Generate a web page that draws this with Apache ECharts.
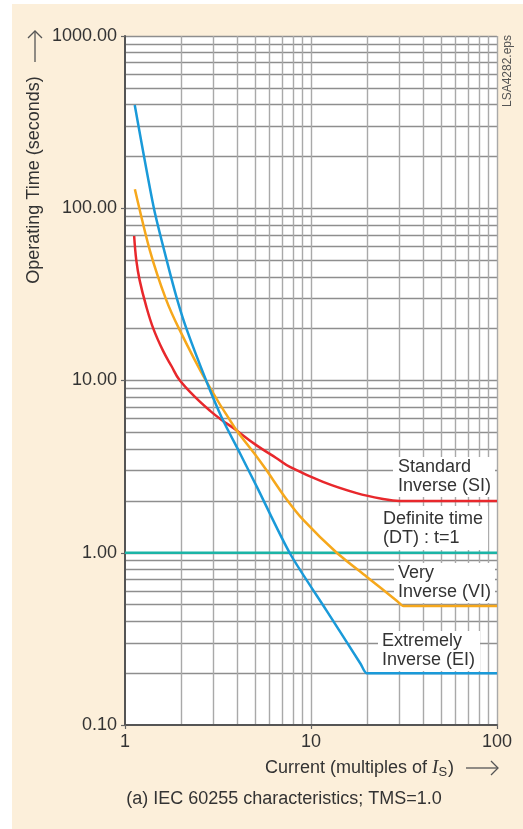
<!DOCTYPE html>
<html>
<head>
<meta charset="utf-8">
<script src="https://cdn.jsdelivr.net/npm/echarts@6/dist/echarts.min.js"></script>
<style>
html,body{margin:0;padding:0;background:#fff;}
#wrap{position:relative;width:523px;height:829px;overflow:hidden;}
#beige{position:absolute;left:12px;top:4px;width:511px;height:825px;background:#fcefda;}
#chart{position:absolute;left:0;top:0;width:523px;height:829px;}
</style>
</head>
<body>
<div id="wrap"><div id="beige"></div><div id="chart"></div></div>
<script>
// ---- Data ----
const xTickLabels = ['1', '10', '100'];
const yTickLabels = ['0.10', '1.00', '10.00', '100.00', '1000.00'];

// Standard Inverse (SI)
const siI = [1.12, 1.15, 1.2, 1.3, 1.42, 1.6, 1.78, 1.96, 2.4, 2.9, 3.31, 3.82, 5.1, 6.5, 7.7, 11.6, 17.6, 24, 30, 100];
const siT = [69, 50, 38, 27, 20, 14.9, 12.1, 10.1, 7.95, 6.6, 5.9, 5.3, 4.2, 3.55, 3.15, 2.58, 2.22, 2.06, 2.0, 2.0];
// Very Inverse (VI)
const viI = [1.13, 1.36, 1.66, 1.96, 2.72, 3.9, 5.11, 5.78, 7.25, 9.09, 13.75, 19.9, 29, 31.4, 33.5, 100];
const viT = [129, 57, 29.7, 19.8, 10, 5.3, 3.61, 3.0, 2.1, 1.55, 1.0, 0.726, 0.525, 0.49, 0.49, 0.49];
// Extremely Inverse (EI)
const eiI = [1.128, 1.43, 1.675, 1.9, 2.146, 2.73, 3.31, 4.15, 5.11, 7.71, 12.15, 18.5, 19.9, 21.5, 100];
const eiT = [398, 100, 50, 30, 19.8, 10, 6.1, 3.78, 2.42, 0.99, 0.46, 0.226, 0.2, 0.2, 0.2];
// Definite time (DT)
const dtI = [1, 100];
const dtT = [1, 1];

const curveNames = ['Standard Inverse (SI)', 'Very Inverse (VI)', 'Extremely Inverse (EI)', 'Definite time (DT)'];

function zip(a, b) { return a.map((v, i) => [v, b[i]]); }

// grid-line positions (log-paper minor lines)
const yGrid = [], xGrid = [];
[0.1, 1, 10, 100].forEach(d => { for (let k = 1; k <= 10; k++) { const v = +(d * k).toPrecision(3); if (v > 0.1 && !yGrid.includes(v)) yGrid.push(v); } });
[1, 10].forEach(d => { for (let k = 2; k <= 10; k++) { xGrid.push(d * k); } });

const FONT = "'Liberation Sans', Arial, Helvetica, sans-serif";
const TXT = '#333';
const hColor = '#8e8e8e', vColor = '#a9a9a9';

const gridLines = [];
yGrid.forEach(v => gridLines.push({ yAxis: v, lineStyle: { color: hColor, width: 1.4, type: 'solid' } }));
xGrid.forEach(v => gridLines.push({ xAxis: v, lineStyle: { color: vColor, width: 1.4, type: 'solid' } }));

const chart = echarts.init(document.getElementById('chart'), null, { renderer: 'canvas' });

function lbl(text, x, y, pad) {
  return {
    type: 'text', z: 1, x: x, y: y,
    style: {
      text: text, font: '18px ' + FONT, fill: TXT, lineHeight: 19,
      align: 'left', verticalAlign: 'top',
      backgroundColor: '#fff', padding: pad
    }
  };
}

function curve(name, I, T, color, smooth) {
  return { type: 'line', name: name, data: zip(I, T), z: 4, showSymbol: false, smooth: smooth, lineStyle: { color: color, width: 2.5 } };
}

const option = {
  animation: false,
  backgroundColor: 'transparent',
  grid: { left: 125, top: 36, width: 372, height: 689, show: true, backgroundColor: '#fff', borderWidth: 0, containLabel: false, outerBoundsMode: 'none' },
  xAxis: {
    type: 'log', logBase: 10, min: 1, max: 100, z: 3,
    axisLine: { show: true, lineStyle: { color: '#555', width: 2 } },
    axisTick: { show: true, length: 4, lineStyle: { color: '#666', width: 1.2 } },
    axisLabel: { fontSize: 18, fontFamily: FONT, color: TXT, margin: 8, formatter: (v, i) => xTickLabels[i] },
    splitLine: { show: false }, minorTick: { show: false }
  },
  yAxis: {
    type: 'log', logBase: 10, min: 0.1, max: 1000, z: 3,
    axisLine: { show: true, lineStyle: { color: '#555', width: 2 } },
    axisTick: { show: true, length: 4, lineStyle: { color: '#666', width: 1.2 } },
    axisLabel: { fontSize: 18, fontFamily: FONT, color: TXT, margin: 8, formatter: (v, i) => yTickLabels[i] },
    splitLine: { show: false }, minorTick: { show: false }
  },
  series: [
    {
      type: 'line', name: 'grid', data: [], z: 0, silent: true,
      markLine: { silent: true, z: 0, symbol: ['none', 'none'], label: { show: false }, animation: false, data: gridLines }
    },
    curve(curveNames[3], dtI, dtT, '#1cb4a6', false),
    curve(curveNames[0], siI, siT, '#e8282c', 0.4),
    curve(curveNames[1], viI, viT, '#f6a81c', 0.25),
    curve(curveNames[2], eiI, eiT, '#1a9ad9', 0.25)
  ],
  graphic: [
    // y-axis title + arrow
    { type: 'text', x: 34, y: 180, rotation: Math.PI / 2, style: { text: 'Operating Time (seconds)', font: '18px ' + FONT, fill: TXT, align: 'center', verticalAlign: 'middle' } },
    { type: 'line', shape: { x1: 35, y1: 62, x2: 35, y2: 31 }, style: { stroke: '#555', lineWidth: 1.3 } },
    { type: 'polyline', shape: { points: [[28, 38], [35, 31], [42, 38]] }, style: { stroke: '#555', lineWidth: 1.3, fill: null } },
    // x-axis title + arrow
    { type: 'text', x: 265, y: 768, style: {
        text: '{a|Current (multiples of }{i|I}{s|S}{a|)}', fill: TXT, align: 'left', verticalAlign: 'middle',
        rich: {
          a: { fontSize: 18, fontFamily: FONT, fill: TXT, lineHeight: 22 },
          i: { fontSize: 19, fontFamily: "'Liberation Serif', 'Times New Roman', serif", fontStyle: 'italic', fill: TXT, lineHeight: 22 },
          s: { fontSize: 13, fontFamily: FONT, fill: TXT, lineHeight: 22, verticalAlign: 'bottom', padding: [8, 1, 0, 0] }
        } } },
    { type: 'line', shape: { x1: 466, y1: 768, x2: 498, y2: 768 }, style: { stroke: '#555', lineWidth: 1.3 } },
    { type: 'polyline', shape: { points: [[491, 761], [498, 768], [491, 775]] }, style: { stroke: '#555', lineWidth: 1.3, fill: null } },
    // caption
    { type: 'text', x: 284, y: 799, style: { text: '(a) IEC 60255 characteristics; TMS=1.0', font: '18px ' + FONT, fill: TXT, align: 'center', verticalAlign: 'middle' } },
    // file tag
    { type: 'text', x: 508, y: 71, rotation: Math.PI / 2, style: { text: 'LSA4282.eps', font: '12px ' + FONT, fill: '#555', align: 'center', verticalAlign: 'middle' } },
    // curve labels
    lbl('Standard\nInverse (SI)', 393, 457, [1, 4, 1, 5]),
    lbl('Definite time\n(DT) : t=1', 379, 506, [4, 5, 2, 4]),
    lbl('Very\nInverse (VI)', 394, 563, [1, 4, 1, 4]),
    lbl('Extremely\nInverse (EI)', 378, 631, [1, 5, 1, 4])
  ]
};
chart.setOption(option);
</script>
</body>
</html>
